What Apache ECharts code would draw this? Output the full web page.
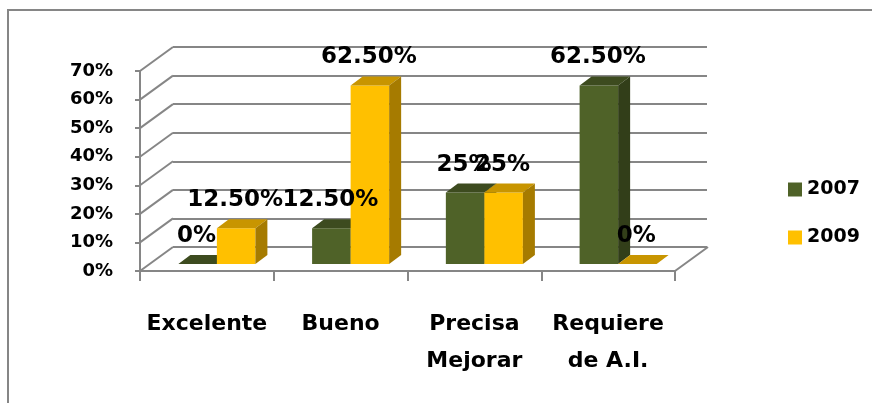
<!DOCTYPE html>
<html>
<head>
<meta charset="utf-8">
<script src="https://cdn.jsdelivr.net/npm/echarts@6/dist/echarts.min.js"></script>
<style>
  html, body { margin: 0; padding: 0; background: #fff; }
  #chart { width: 872px; height: 403px; }
</style>
</head>
<body>
<div id="chart"></div>
<script>
const categories = ["Excelente", "Bueno", "Precisa\nMejorar", "Requiere\nde A.I."];
const seriesNames = ["2007", "2009"];
const values2007 = [0, 12.5, 25, 62.5];
const values2009 = [12.5, 62.5, 25, 0];
const yTicks = [0, 10, 20, 30, 40, 50, 60, 70];

const FONT = "DejaVu Sans";
const GRID_COLOR = "#868686";
// depth of the floor / wall, and of a single bar
const WALL_DX = 33, WALL_DY = -24;
const BAR_DX = 12, BAR_DY = -9;
const SHIFT_X = 10, SHIFT_Y = -7;

function fmtPct (v) {
    return Number.isInteger(v) ? v + "%" : v.toFixed(2) + "%";
}

function makeBarRenderer (side, colors) {
    return function (params, api) {
        const cat = api.value(0);
        const val = api.value(1);
        const base = api.coord([cat, 0]);
        const top = api.coord([cat, val]);
        const bw = api.size([1, 0])[0] * 0.288;
        const x0 = base[0] + SHIFT_X + side * bw;
        const x1 = x0 + bw;
        const yb = base[1] + SHIFT_Y;
        const yt = top[1] + SHIFT_Y;
        return {
            type: "group",
            children: [
                {
                    type: "rect",
                    shape: { x: x0, y: yt, width: bw, height: yb - yt },
                    style: { fill: colors[0] }
                },
                {
                    type: "polygon",
                    shape: { points: [[x0, yt], [x1, yt], [x1 + BAR_DX, yt + BAR_DY], [x0 + BAR_DX, yt + BAR_DY]] },
                    style: { fill: colors[1] }
                },
                {
                    type: "polygon",
                    shape: { points: [[x1, yt], [x1 + BAR_DX, yt + BAR_DY], [x1 + BAR_DX, yb + BAR_DY], [x1, yb]] },
                    style: { fill: colors[2] }
                },
                {
                    type: "text",
                    z2: 100,
                    style: {
                        x: (x0 + x1) / 2 - 1,
                        y: yt + BAR_DY - 19,
                        text: fmtPct(val),
                        fill: "#000",
                        font: "bold 23px '" + FONT + "'",
                        align: "center",
                        verticalAlign: "middle"
                    }
                }
            ]
        };
    };
}

function renderWalls (params, api) {
    const cs = params.coordSys;
    const v = api.value(1);
    const y = api.coord([0, v])[1];
    const children = [{
        type: "line",
        shape: { x1: cs.x, y1: y, x2: cs.x + WALL_DX, y2: y + WALL_DY },
        style: { stroke: GRID_COLOR, lineWidth: 2 }
    }];
    if (v === 0) {
        children.push({
            type: "line",
            shape: { x1: cs.x + cs.width, y1: y, x2: cs.x + cs.width + WALL_DX, y2: y + WALL_DY },
            style: { stroke: GRID_COLOR, lineWidth: 2 }
        });
    }
    return { type: "group", children: children };
}

const chart = echarts.init(document.getElementById("chart"));
const option = {
    animation: false,
    graphic: [
        {
            type: "rect",
            shape: { x: 8, y: 10, width: 900, height: 500 },
            style: { fill: "none", stroke: GRID_COLOR, lineWidth: 2 },
            z: -10
        }
    ],
    legend: {
        data: seriesNames,
        orient: "vertical",
        left: 783,
        top: 175,
        itemWidth: 14,
        itemHeight: 14,
        itemGap: 29,
        icon: "rect",
        textStyle: { fontFamily: FONT, fontWeight: "bold", fontSize: 19, color: "#000" }
    },
    grid: [
        // front plane
        { left: 140, right: 197, top: 71, bottom: 132 },
        // back wall
        { left: 173, right: 165, top: 47, bottom: 156 }
    ],
    xAxis: [
        {
            type: "category",
            gridIndex: 0,
            data: categories,
            axisLine: { lineStyle: { color: GRID_COLOR, width: 2 } },
            axisTick: { show: true, alignWithLabel: false, interval: 0, length: 10, lineStyle: { color: GRID_COLOR, width: 2 } },
            axisLabel: {
                interval: 0,
                margin: 35,
                color: "#000",
                fontFamily: FONT,
                fontWeight: "bold",
                fontSize: 22,
                lineHeight: 37
            }
        },
        {
            type: "category",
            gridIndex: 1,
            data: categories,
            show: false
        }
    ],
    yAxis: [
        {
            type: "value",
            gridIndex: 0,
            min: 0,
            max: 70,
            interval: 10,
            axisLine: { show: true, lineStyle: { color: GRID_COLOR, width: 2 } },
            axisTick: { show: true, length: 5, lineStyle: { color: GRID_COLOR, width: 2 } },
            splitLine: { show: false },
            axisLabel: {
                margin: 27,
                formatter: "{value}%",
                color: "#000",
                fontFamily: FONT,
                fontWeight: "bold",
                fontSize: 18
            }
        },
        {
            type: "value",
            gridIndex: 1,
            min: 0,
            max: 70,
            interval: 10,
            axisLine: { show: false },
            axisTick: { show: false },
            axisLabel: { show: false },
            splitLine: { show: true, lineStyle: { color: GRID_COLOR, width: 2 } }
        }
    ],
    series: [
        {
            type: "custom",
            name: "walls",
            xAxisIndex: 0,
            yAxisIndex: 0,
            clip: false,
            silent: true,
            data: yTicks.map(v => [0, v]),
            renderItem: renderWalls
        },
        {
            type: "custom",
            name: seriesNames[0],
            xAxisIndex: 0,
            yAxisIndex: 0,
            clip: false,
            itemStyle: { color: "#4F6228" },
            data: values2007.map((v, i) => [i, v]),
            renderItem: makeBarRenderer(-1, ["#4F6228", "#3D4B1F", "#323E19"])
        },
        {
            type: "custom",
            name: seriesNames[1],
            xAxisIndex: 0,
            yAxisIndex: 0,
            clip: false,
            itemStyle: { color: "#FFC000" },
            data: values2009.map((v, i) => [i, v]),
            renderItem: makeBarRenderer(0, ["#FFC000", "#C89500", "#A67B00"])
        }
    ]
};
chart.setOption(option);
</script>
</body>
</html>
